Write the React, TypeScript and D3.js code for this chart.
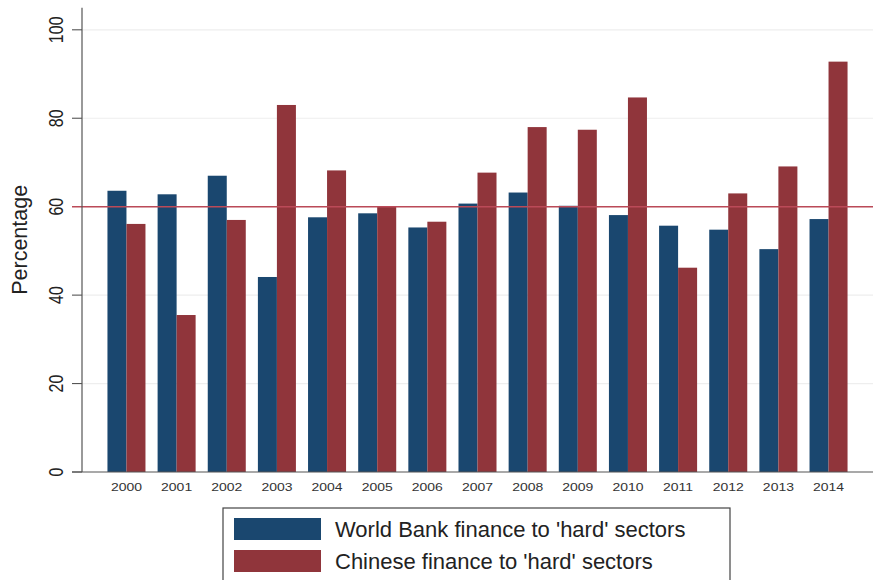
import React from "react";
import * as d3 from "d3";

const years = ["2000","2001","2002","2003","2004","2005","2006","2007","2008","2009","2010","2011","2012","2013","2014"];
const worldBank = [63.6, 62.8, 67.0, 44.1, 57.6, 58.5, 55.3, 60.7, 63.2, 60.2, 58.1, 55.7, 54.8, 50.4, 57.2];
const chinese = [56.1, 35.5, 57.0, 83.0, 68.2, 60.0, 56.6, 67.7, 78.0, 77.4, 84.7, 46.2, 63.0, 69.1, 92.8];
const yTicks = [0, 20, 40, 60, 80, 100];
const refLine = 60;
const seriesNames = ["World Bank finance to 'hard' sectors", "Chinese finance to 'hard' sectors"];
const seriesKeys = ["wb", "cn"];
const colors = ["#1a476f", "#90353b"];

const W = 873, H = 580;

export default function App() {
  const x0 = d3.scaleBand<string>().domain(years).range([82, 873]).paddingInner(0.242).paddingOuter(0.5076);
  const x1 = d3.scaleBand<string>().domain(seriesKeys).range([0, x0.bandwidth()]).padding(0);
  const y = d3.scaleLinear().domain([0, 100]).range([472, 29.8]);
  const color = d3.scaleOrdinal<string, string>().domain(seriesKeys).range(colors);
  const data = [worldBank, chinese];
  const axisX = 82;
  const font = "Liberation Sans, Arial, Helvetica, sans-serif";

  return (
    <svg width={W} height={H} style={{ position: "absolute", left: 0, top: 0, background: "#fff" }} fontFamily={font}>
      <rect x={0} y={0} width={W} height={H} fill="#fff" />
      {yTicks.filter(t => t > 0).map(t => (
        <line key={"g" + t} x1={axisX} x2={W} y1={y(t)} y2={y(t)} stroke="#eeeeee" strokeWidth={1.2} />
      ))}
      {years.map((yr, i) => (
        <g key={yr} transform={`translate(${x0(yr)},0)`}>
          {seriesKeys.map((k, s) => (
            <rect key={k} x={x1(k)} y={y(data[s][i])} width={x1.bandwidth()} height={y(0) - y(data[s][i])} fill={color(k)} />
          ))}
        </g>
      ))}
      <line x1={72} x2={W} y1={y(refLine)} y2={y(refLine)} stroke="#bb4a58" strokeWidth={1.5} />
      <line x1={axisX} x2={axisX} y1={y(105)} y2={y(0)} stroke="#555" strokeWidth={1.2} />
      {yTicks.map(t => (
        <g key={"t" + t}>
          {t !== refLine && <line x1={72} x2={axisX} y1={y(t)} y2={y(t)} stroke="#555" strokeWidth={1.1} />}
          <text transform={`translate(63,${y(t)}) rotate(-90) scale(1,1.3)`} textAnchor="middle" fontSize={16} fill="#222">{t}</text>
        </g>
      ))}
      <text transform={`translate(27,${(y(105) + y(0)) / 2}) rotate(-90)`} textAnchor="middle" fontSize={21.5} fill="#222">Percentage</text>
      <line x1={72} x2={W} y1={y(0)} y2={y(0)} stroke="#555" strokeWidth={1.2} />
      {years.map(yr => (
        <text key={"l" + yr} transform={`translate(${(x0(yr) as number) + x0.bandwidth() / 2},491) scale(1.27,1)`} textAnchor="middle" fontSize={11} fill="#333">{yr}</text>
      ))}
      <rect x={223} y={508} width={507} height={90} fill="#fff" stroke="#444" strokeWidth={1.2} />
      {seriesNames.map((nm, s) => (
        <g key={nm} transform={`translate(234,${518 + s * 32})`}>
          <rect x={0} y={0} width={87} height={22} fill={colors[s]} />
          <text x={101} y={19} fontSize={22} fill="#222">{nm}</text>
        </g>
      ))}
    </svg>
  );
}
